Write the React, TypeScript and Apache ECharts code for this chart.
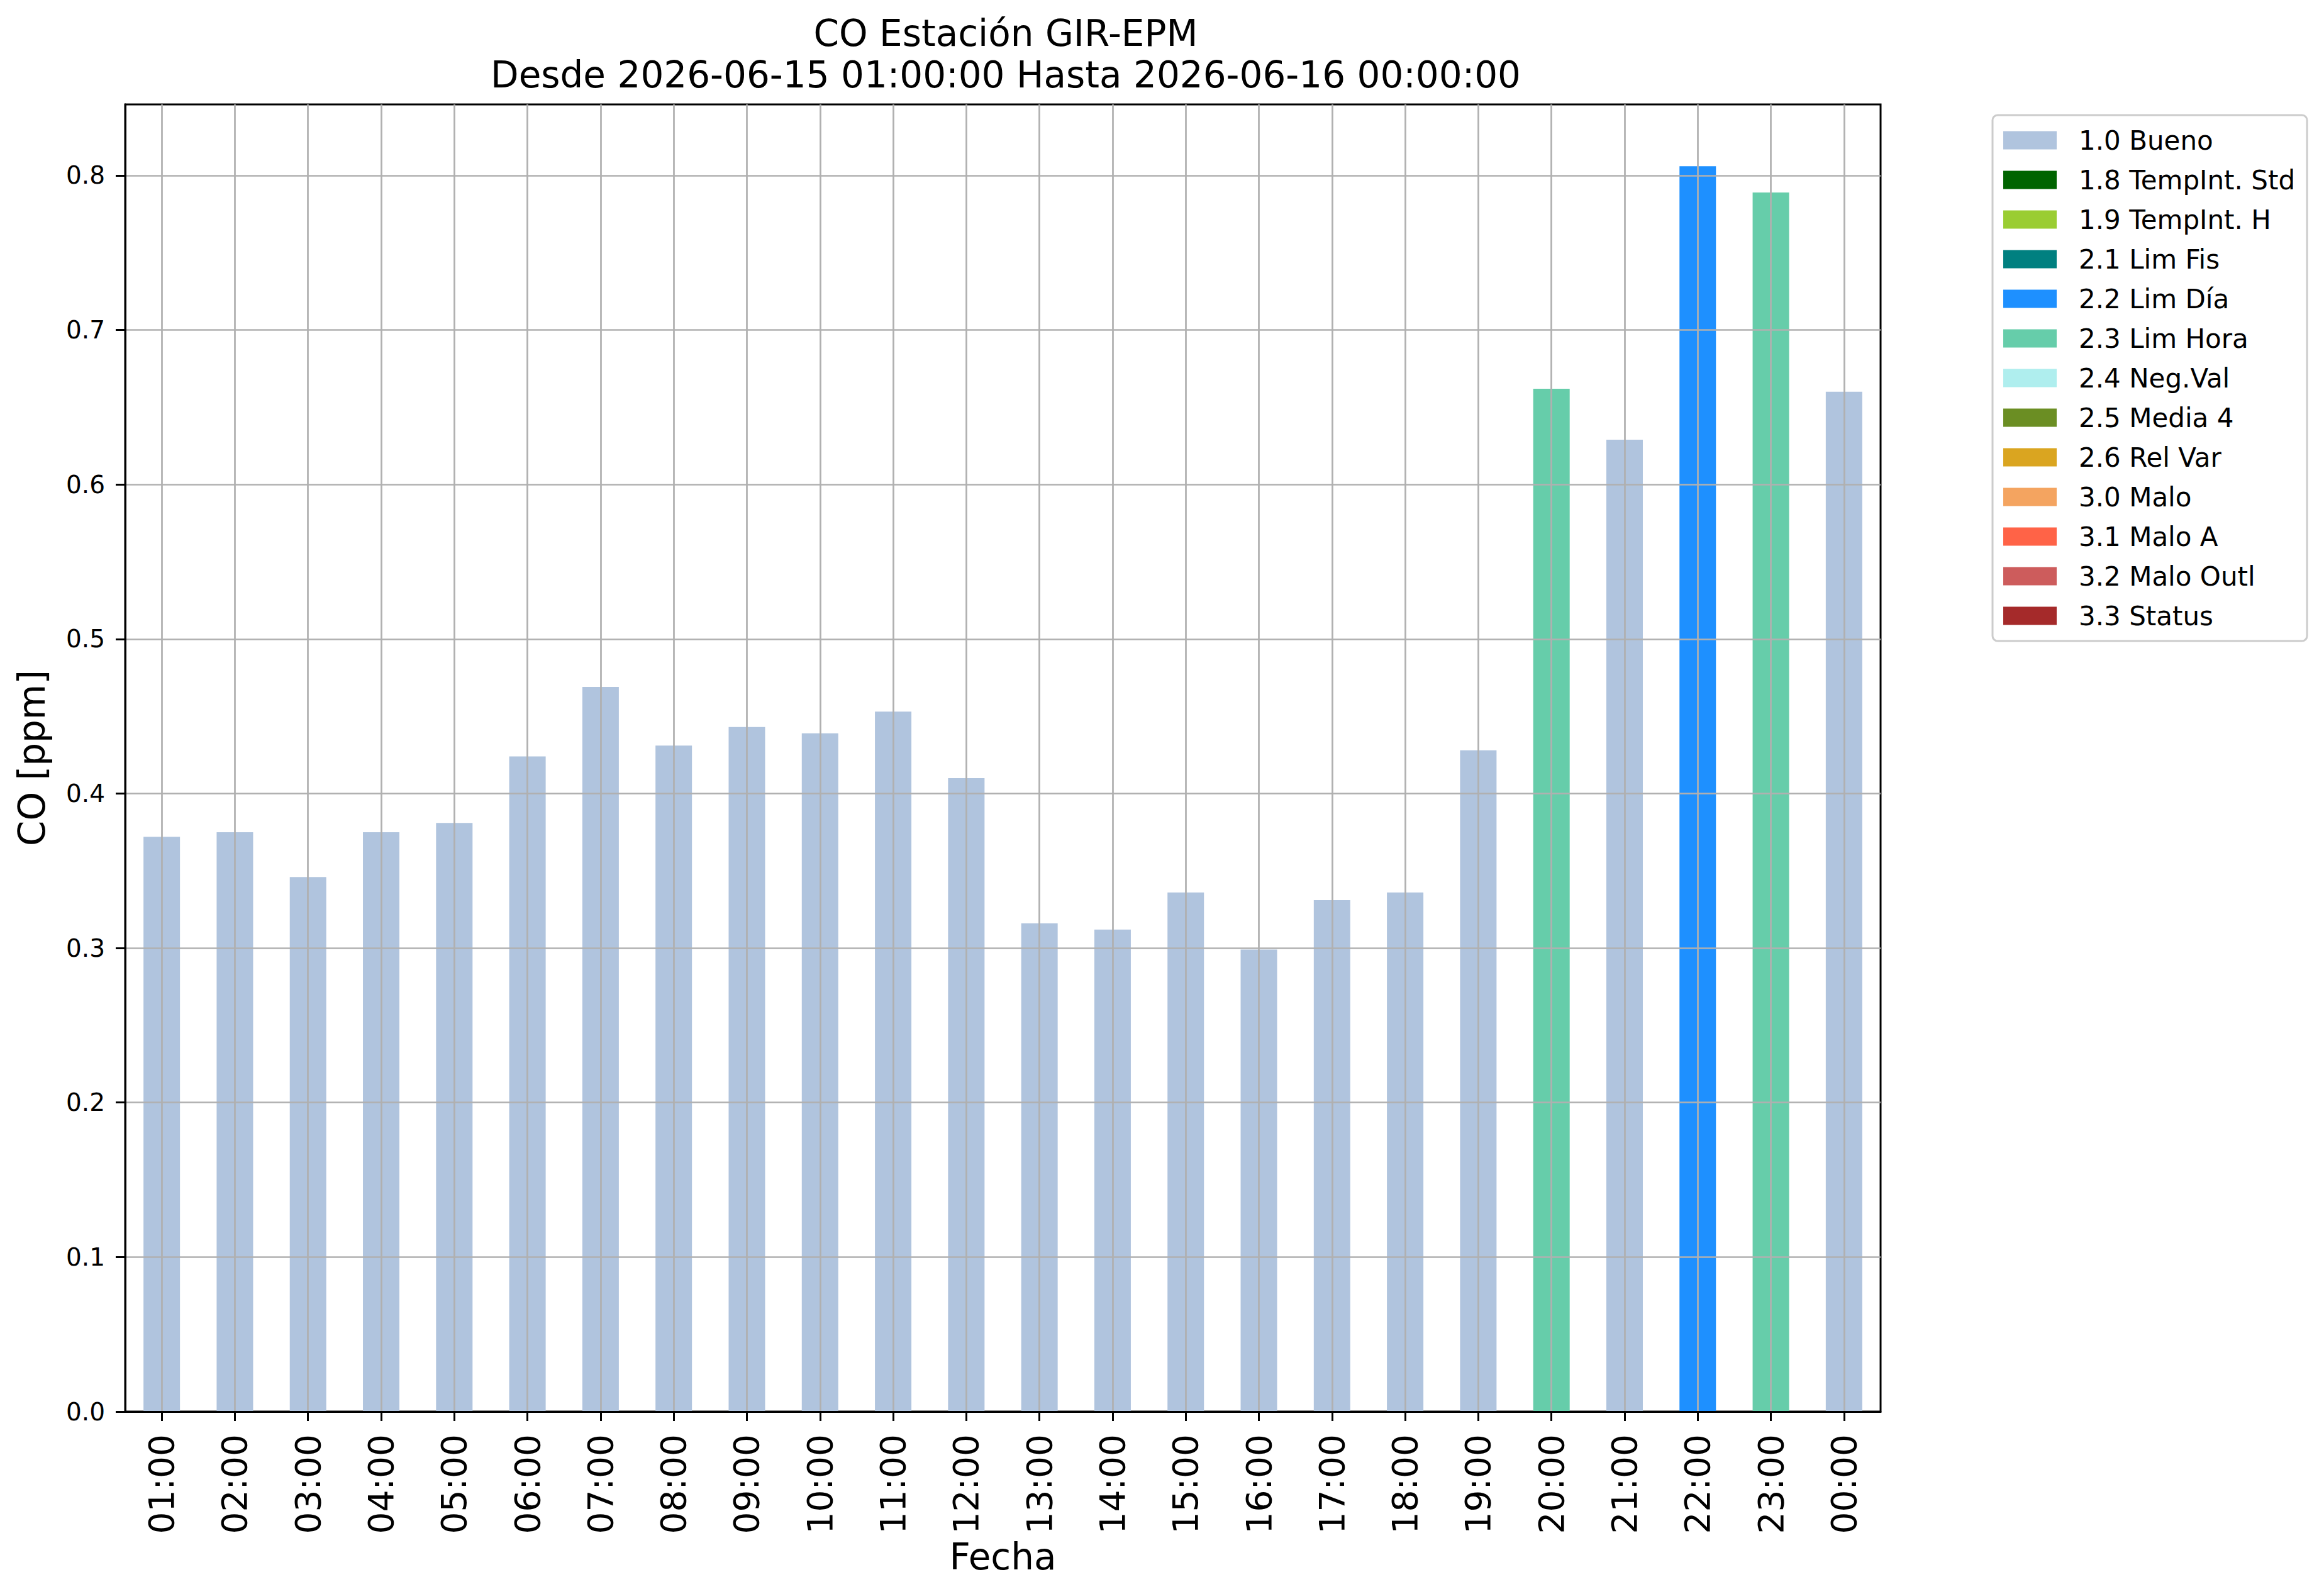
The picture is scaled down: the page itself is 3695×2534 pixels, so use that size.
import React, { useEffect, useRef } from "react";
import * as echarts from "echarts";

// ---- Data ----
const hours = [
  "01:00", "02:00", "03:00", "04:00", "05:00", "06:00", "07:00", "08:00",
  "09:00", "10:00", "11:00", "12:00", "13:00", "14:00", "15:00", "16:00",
  "17:00", "18:00", "19:00", "20:00", "21:00", "22:00", "23:00", "00:00",
];

const coValues = [
  0.372, 0.375, 0.346, 0.375, 0.381, 0.424, 0.469, 0.431,
  0.443, 0.439, 0.453, 0.410, 0.316, 0.312, 0.336, 0.299,
  0.331, 0.336, 0.428, 0.662, 0.629, 0.806, 0.789, 0.660,
];

const hourFlags = [
  "1.0 Bueno", "1.0 Bueno", "1.0 Bueno", "1.0 Bueno", "1.0 Bueno", "1.0 Bueno",
  "1.0 Bueno", "1.0 Bueno", "1.0 Bueno", "1.0 Bueno", "1.0 Bueno", "1.0 Bueno",
  "1.0 Bueno", "1.0 Bueno", "1.0 Bueno", "1.0 Bueno", "1.0 Bueno", "1.0 Bueno",
  "1.0 Bueno", "2.3 Lim Hora", "1.0 Bueno", "2.2 Lim Día", "2.3 Lim Hora", "1.0 Bueno",
];

const flagNames = [
  "1.0 Bueno", "1.8 TempInt. Std", "1.9 TempInt. H", "2.1 Lim Fis", "2.2 Lim Día",
  "2.3 Lim Hora", "2.4 Neg.Val", "2.5 Media 4", "2.6 Rel Var", "3.0 Malo",
  "3.1 Malo A", "3.2 Malo Outl", "3.3 Status",
];

const flagColors = [
  "#B0C4DE", "#006400", "#9ACD32", "#008080", "#1E90FF",
  "#66CDAA", "#AFEEEE", "#6B8E23", "#DAA520", "#F4A460",
  "#FF6347", "#CD5C5C", "#A52A2A",
];

const yTicks = [0.0, 0.1, 0.2, 0.3, 0.4, 0.5, 0.6, 0.7, 0.8];

const titleText = "CO Estación GIR-EPM\nDesde 2026-06-15 01:00:00 Hasta 2026-06-16 00:00:00";
const xName = "Fecha";
const yName = "CO [ppm]";

const FONT = "DejaVu Sans";

export default function App() {
  const ref = useRef<HTMLDivElement>(null);

  useEffect(() => {
    document.body.style.margin = "0";
    document.body.style.overflow = "hidden";
    if (!ref.current) return;
    const chart = echarts.init(ref.current, null, { renderer: "svg" });

    const series = flagNames.map((name, fi) => ({
      name,
      type: "bar",
      stack: "flags",
      barWidth: 58,
      silent: true,
      itemStyle: { color: flagColors[fi] },
      emphasis: { disabled: true },
      data: coValues.map((v, i) => (hourFlags[i] === name ? v : "-")),
    }));

    const option: any = {
      animation: false,
      backgroundColor: "#ffffff",
      textStyle: { fontFamily: FONT },
      title: {
        text: titleText,
        left: 1594,
        top: 15,
        textAlign: "center",
        textStyle: {
          fontFamily: FONT,
          fontSize: 58,
          fontWeight: "normal",
          color: "#000",
          lineHeight: 66,
        },
      },
      legend: {
        data: flagNames,
        orient: "vertical",
        left: 3168,
        top: 183,
        padding: [19, 19, 19, 17],
        itemWidth: 85,
        itemHeight: 29,
        itemGap: 21,
        icon: "rect",
        backgroundColor: "#ffffff",
        borderColor: "#cccccc",
        borderWidth: 3,
        borderRadius: 8,
        selectedMode: false,
        textStyle: {
          fontFamily: FONT,
          fontSize: 42,
          color: "#000",
          lineHeight: 42,
          padding: [0, 0, 0, 30],
        },
      },
      grid: {
        left: 199,
        top: 166,
        width: 2791,
        height: 2078,
        show: true,
        borderColor: "#000",
        borderWidth: 3,
        backgroundColor: "#fff",
      },
      xAxis: {
        type: "category",
        data: hours,
        z: 5,
        name: xName,
        nameLocation: "middle",
        nameGap: 196,
        nameTextStyle: { fontFamily: FONT, fontSize: 58, color: "#000" },
        axisLine: { show: true, lineStyle: { color: "#000", width: 3 } },
        axisTick: { show: true, alignWithLabel: true, length: 15, lineStyle: { color: "#000", width: 3 } },
        axisLabel: {
          interval: 0,
          rotate: 90,
          margin: 36,
          fontFamily: FONT,
          fontSize: 55,
          color: "#000",
        },
        splitLine: {
          show: true,
          alignWithLabel: true,
          interval: 0,
          lineStyle: { color: "#b0b0b0", width: 2.7 },
        },
      },
      yAxis: {
        type: "value",
        min: 0,
        max: 0.846,
        interval: 0.1,
        z: 5,
        name: yName,
        nameLocation: "middle",
        nameGap: 119,
        nameTextStyle: { fontFamily: FONT, fontSize: 58, color: "#000" },
        axisLine: { show: true, lineStyle: { color: "#000", width: 3 } },
        axisTick: { show: true, length: 15, customValues: yTicks, lineStyle: { color: "#000", width: 3 } },
        axisLabel: {
          customValues: yTicks,
          margin: 32,
          fontFamily: FONT,
          fontSize: 39,
          color: "#000",
          formatter: (v: number) => v.toFixed(1),
        },
        splitLine: { show: true, lineStyle: { color: "#b0b0b0", width: 2.7 } },
      },
      series,
    };

    chart.setOption(option);
    return () => chart.dispose();
  }, []);

  return <div ref={ref} style={{ width: 3695, height: 2534 }} />;
}
